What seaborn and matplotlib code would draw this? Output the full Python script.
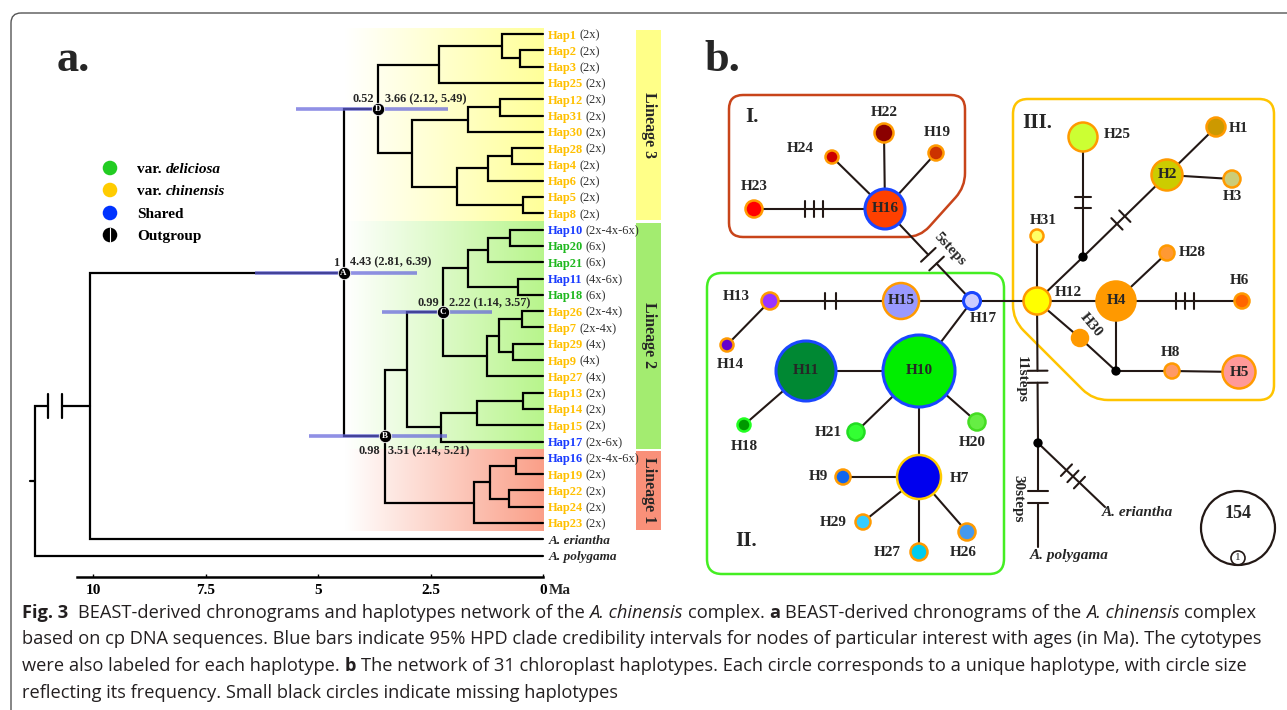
import numpy as np
import matplotlib
matplotlib.use("Agg")
import matplotlib.pyplot as plt
import seaborn as sns
from matplotlib.patches import Circle, Rectangle, FancyBboxPatch, PathPatch
from matplotlib.path import Path
from matplotlib.transforms import offset_copy
from matplotlib import font_manager

sns.set_theme(style="white")
plt.rcParams['font.family'] = ['Liberation Serif', 'DejaVu Serif']

# ---------------- panel a: chronogram data ----------------
tips = ["Hap1", "Hap2", "Hap3", "Hap25", "Hap12", "Hap31", "Hap30", "Hap28", "Hap4", "Hap6",
        "Hap5", "Hap8", "Hap10", "Hap20", "Hap21", "Hap11", "Hap18", "Hap26", "Hap7", "Hap29",
        "Hap9", "Hap27", "Hap13", "Hap14", "Hap15", "Hap17", "Hap16", "Hap19", "Hap22", "Hap24",
        "Hap23", "A. eriantha", "A. polygama"]
cytotypes = ["(2x)"] * 12 + ["(2x-4x-6x)", "(6x)", "(6x)", "(4x-6x)", "(6x)", "(2x-4x)", "(2x-4x)",
             "(4x)", "(4x)", "(4x)", "(2x)", "(2x)", "(2x)", "(2x-6x)", "(2x-4x-6x)", "(2x)",
             "(2x)", "(2x)", "(2x)", "", ""]
tip_kind = ["chinensis"] * 12 + ["shared", "deliciosa", "deliciosa", "shared", "deliciosa"] + \
           ["chinensis"] * 8 + ["shared", "shared"] + ["chinensis"] * 4 + ["out", "out"]

# internal nodes: name, child 1, child 2, age (Ma)
nodes = [
    ("n2_3", "Hap2", "Hap3", 0.51),
    ("n1_3", "Hap1", "n2_3", 0.92),
    ("n1_25", "n1_3", "Hap25", 2.31),
    ("n12_31", "Hap12", "Hap31", 0.96),
    ("n12_30", "n12_31", "Hap30", 1.67),
    ("n28_4", "Hap28", "Hap4", 0.70),
    ("n28_6", "n28_4", "Hap6", 1.22),
    ("n5_8", "Hap5", "Hap8", 0.45),
    ("n28_8", "n28_6", "n5_8", 1.92),
    ("n12_8", "n12_30", "n28_8", 2.92),
    ("D", "n1_25", "n12_8", 3.66),
    ("n10_20", "Hap10", "Hap20", 0.73),
    ("n10_21", "n10_20", "Hap21", 1.23),
    ("n11_18", "Hap11", "Hap18", 0.55),
    ("n10_18", "n10_21", "n11_18", 1.67),
    ("n26_7", "Hap26", "Hap7", 0.47),
    ("n29_9", "Hap29", "Hap9", 0.66),
    ("n26_9", "n26_7", "n29_9", 0.97),
    ("n26_27", "n26_9", "Hap27", 1.25),
    ("C", "n10_18", "n26_27", 2.22),
    ("n13_14", "Hap13", "Hap14", 0.44),
    ("n13_15", "n13_14", "Hap15", 1.47),
    ("n13_17", "n13_15", "Hap17", 2.27),
    ("L2", "C", "n13_17", 3.03),
    ("n16_19", "Hap16", "Hap19", 0.61),
    ("n22_24", "Hap22", "Hap24", 0.75),
    ("n16_24", "n16_19", "n22_24", 1.18),
    ("L1", "n16_24", "Hap23", 1.53),
    ("B", "L2", "L1", 3.51),
    ("A", "D", "B", 4.43),
    ("ingroup", "A", "A. eriantha", 10.07),
    ("root", "ingroup", "A. polygama", 11.29),
]
hpd = {"A": (2.81, 6.39), "D": (2.12, 5.49), "C": (1.14, 3.57), "B": (2.14, 5.21)}
posterior = {"A": "1", "D": "0.52", "C": "0.99", "B": "0.98"}
lineages = [("Lineage 3", 0, 11), ("Lineage 2", 12, 25), ("Lineage 1", 26, 30)]
scale_ticks = [10, 7.5, 5, 2.5, 0]
scale_labels = ["10", "7.5", "5", "2.5", "0"]
legend_names = ["var. deliciosa", "var. chinensis", "Shared", "Outgroup"]

# ---------------- panel b: network data ----------------
group_I = ["H16", "H22", "H19", "H24", "H23"]
group_II = ["H13", "H14", "H15", "H17", "H11", "H10", "H18", "H21", "H20", "H7", "H9", "H29", "H27", "H26"]
group_III = ["H25", "H1", "H2", "H3", "H31", "H12", "H4", "H28", "H6", "H30", "H8", "H5"]
missing = ["mv1", "mv2", "mv3"]
# edge: a, b, mutation marks, steps (break)
net_edges = [
    ("H23", "H16", 3, 0), ("H24", "H16", 0, 0), ("H22", "H16", 0, 0), ("H19", "H16", 0, 0),
    ("H16", "H17", 0, 5),
    ("H13", "H15", 2, 0), ("H15", "H17", 0, 0), ("H13", "H14", 0, 0), ("H17", "H10", 0, 0),
    ("H11", "H10", 0, 0), ("H11", "H18", 0, 0), ("H10", "H21", 0, 0), ("H10", "H20", 0, 0),
    ("H10", "H7", 0, 0), ("H7", "H9", 0, 0), ("H7", "H29", 0, 0), ("H7", "H27", 0, 0),
    ("H7", "H26", 0, 0), ("H17", "H12", 0, 0),
    ("H12", "H31", 0, 0), ("H12", "mv1", 0, 0), ("mv1", "H25", 2, 0), ("mv1", "H2", 2, 0),
    ("H2", "H1", 0, 0), ("H2", "H3", 0, 0), ("H12", "H4", 0, 0), ("H4", "H28", 0, 0),
    ("H4", "H6", 3, 0), ("H12", "H30", 0, 0), ("H30", "mv2", 0, 0), ("H4", "mv2", 0, 0),
    ("mv2", "H8", 0, 0), ("H8", "H5", 0, 0),
    ("H12", "mv3", 0, 11), ("mv3", "A. polygama", 0, 30), ("mv3", "A. eriantha", 3, 0),
]
scale_count = 154

# ---------------- layout / styles ----------------
net_pos = {
    "H16": (885, 209), "H22": (884, 133), "H19": (936, 153), "H24": (832, 157), "H23": (754, 209),
    "H13": (770, 301), "H14": (727, 345), "H15": (901, 301), "H17": (972, 301), "H11": (806, 371),
    "H10": (919, 371), "H18": (744, 425), "H21": (856, 432), "H20": (977, 422), "H7": (919, 477),
    "H9": (843, 477), "H29": (863, 522), "H27": (919, 552), "H26": (967, 532),
    "H25": (1083, 137), "H1": (1216, 127), "H2": (1167, 175), "H3": (1232, 179), "H31": (1037, 236),
    "H12": (1037, 301), "H4": (1116, 301), "H28": (1167, 253), "H6": (1242, 301), "H30": (1080, 338),
    "H8": (1172, 371), "H5": (1239, 372),
    "mv1": (1083, 257), "mv2": (1116, 371), "mv3": (1038, 443),
    "A. eriantha": (1105, 507), "A. polygama": (1038, 547),
}
net_r = {"H16": 20, "H22": 9.5, "H19": 7.5, "H24": 6.5, "H23": 8.5, "H13": 8.5, "H14": 6.5,
         "H15": 18, "H17": 8.5, "H11": 30, "H10": 36, "H18": 6.5, "H21": 8.5, "H20": 8.5,
         "H7": 22, "H9": 7.5, "H29": 7.5, "H27": 8.5, "H26": 8.5, "H25": 14.5, "H1": 9.5,
         "H2": 15.5, "H3": 8.5, "H31": 6.5, "H12": 13.5, "H4": 19.5, "H28": 7.5, "H6": 7.5,
         "H30": 8, "H8": 7.5, "H5": 16.5, "mv1": 4, "mv2": 4, "mv3": 4}
ORANGE, BLUE = "#ff9a00", "#1a46ff"
net_fill = {"H16": "#ff4000", "H22": "#8b0000", "H19": "#cc3300", "H24": "#cc0000", "H23": "#ff0000",
            "H13": "#9933ff", "H14": "#6600cc", "H15": "#9999ff", "H17": "#ccccff", "H11": "#008833",
            "H10": "#00ee00", "H18": "#009900", "H21": "#33ff33", "H20": "#66ee44", "H7": "#0000ee",
            "H9": "#1166ee", "H29": "#33ccff", "H27": "#00ccee", "H26": "#4499ee",
            "H25": "#ccff33", "H1": "#cc9900", "H2": "#cccc00", "H3": "#cccc77", "H31": "#ffff66",
            "H12": "#ffff00", "H4": "#ff9900", "H28": "#ff9933", "H6": "#ff6600", "H30": "#ff9900",
            "H8": "#ff9966", "H5": "#ff9999"}
net_edgecol = {"H16": BLUE, "H17": BLUE, "H11": BLUE, "H10": BLUE, "H7": "#ffcc00",
               "H18": "#22ff22", "H21": "#22dd22", "H20": "#44dd22"}
inside = ["H16", "H15", "H11", "H10", "H2", "H4", "H5"]
label_off = {"H22": (0, -21), "H19": (1, -21), "H24": (-32, -9), "H23": (0, -22),
             "H13": (-34, -5), "H14": (3, 19), "H17": (11, 17), "H18": (0, 21), "H21": (-28, 1),
             "H20": (-5, 21), "H7": (40, 1), "H9": (-25, -1), "H29": (-30, 1), "H27": (-32, 1),
             "H26": (-4, 21), "H25": (34, -3), "H1": (23, 1), "H3": (0, 18), "H31": (6, -16),
             "H12": (31, -8), "H28": (25, 0), "H6": (-3, -20), "H8": (-2, -18)}
step_label = {5: (950, 249, -47), 11: (1021, 380, -90), 30: (1018, 499, -90)}
EDGE = "#231815"

fig = plt.figure(figsize=(12.87, 7.10), dpi=100)
ax = fig.add_axes([0, 0, 1, 1])
ax.set_xlim(0, 1287)
ax.set_ylim(710, 0)
ax.set_axis_off()
ax.set_autoscale_on(False)

axt = fig.add_axes([0, 0, 700 / 1287, 1])
axt.patch.set_alpha(0)
XL, XR = 543 / 45, (543 - 700) / 45
YT, YB = -34 / 16.3, (710 - 34) / 16.3
axt.set_xlim(XL, XR)
axt.set_ylim(YB, YT)
axt.set_autoscale_on(False)
renderer = fig.canvas.get_renderer()


def seg_text(axis, x, y, segments, size, color="black", family=None, va="baseline", base=None):
    """place text pieces one after another, return total width in pixels"""
    base = base or axis.transData
    dx = 0.0
    for txt, weight, style, col in segments:
        col = col or color
        kw = dict(fontsize=size, fontweight=weight, fontstyle=style, color=col, va=va, ha="left")
        if family:
            kw["family"] = family
        sp = axis.text(0, 0, "a a", **kw)
        nsp = axis.text(0, 0, "aa", **kw)
        space_w = sp.get_window_extent(renderer).width - nsp.get_window_extent(renderer).width
        sp.remove()
        nsp.remove()
        lead = len(txt) - len(txt.lstrip(" "))
        trail = len(txt) - len(txt.rstrip(" "))
        dx += lead * space_w
        core = txt.strip(" ")
        if core:
            t = axis.text(x, y, core, transform=offset_copy(base, fig=fig, x=dx, y=0, units="dots"), **kw)
            dx += t.get_window_extent(renderer).width
        dx += trail * space_w
    return dx


# ---------- frame ----------
ax.add_patch(FancyBboxPatch((11, 13), 1300, 710, boxstyle="round,pad=0,rounding_size=10",
                            lw=1.0, ec="#555555", fc="none"))
ax.text(73, 60, "a.", fontsize=32, fontweight="bold", ha="center", va="center")
ax.text(722, 60, "b.", fontsize=32, fontweight="bold", ha="center", va="center")

# ---------- lineage backgrounds and bars ----------
lin_bg = {"Lineage 3": "#ffff99", "Lineage 2": "#b8f58c", "Lineage 1": "#fa9f88"}
lin_bar = {"Lineage 3": "#ffff88", "Lineage 2": "#a3ec70", "Lineage 1": "#f99079"}
for name, lo, hi in lineages:
    y0 = lo - 0.5 if lo > 0 else lo - 0.3
    y1 = hi + 0.5
    c = np.array(matplotlib.colors.to_rgb(lin_bg[name]))
    t = np.linspace(0, 1, 200)[None, :, None]
    grad = (1 - t) * np.ones(3) + t * c
    axt.imshow(grad, extent=(4.4, 0, y1, y0), aspect="auto", zorder=0, interpolation="bilinear")
    axt.add_patch(Rectangle((-2.07, y0 + 0.07), -0.55, (y1 - y0) - 0.14, fc=lin_bar[name], ec="none", zorder=1))
    axt.text(-2.345, (y0 + y1) / 2, name, rotation=-90, fontsize=11.5, fontweight="bold",
             ha="center", va="center", zorder=2)

# ---------- tree ----------
node_age = {n: 0.0 for n in tips}
node_y = {n: i for i, n in enumerate(tips)}
for name, a, b, age in nodes:
    node_age[name] = age
    node_y[name] = (node_y[a] + node_y[b]) / 2

for name, a, b, age in nodes:
    if name == "root":
        continue
    axt.plot([node_age[a], age, age, node_age[b]], [node_y[a], node_y[a], node_y[b], node_y[b]],
             color="black", lw=1.6, solid_joinstyle="miter", zorder=2)
# root with broken branch
ry, iy = node_y["root"], node_y["ingroup"]
ra = node_age["root"]
axt.plot([node_age["A. polygama"], ra, ra, 11.0], [node_y["A. polygama"], node_y["A. polygama"], iy, iy],
         color="black", lw=1.6, solid_joinstyle="miter", zorder=2)
axt.plot([10.69, node_age["ingroup"]], [iy, iy], color="black", lw=1.6, zorder=2)
for bx in (11.0, 10.69):
    axt.plot([bx, bx], [iy - 0.75, iy + 0.75], color="black", lw=1.6, zorder=2)
axt.plot([ra + 0.12, ra], [ry, ry], color="black", lw=1.6, zorder=2)

# HPD bars
for n, (lo, hi) in hpd.items():
    axt.plot([lo, hi], [node_y[n], node_y[n]], color=(0.38, 0.38, 0.86), alpha=0.7, lw=2.6,
             solid_capstyle="butt", zorder=3)
marked = list(hpd.keys())
sns.scatterplot(x=[node_age[n] for n in marked], y=[node_y[n] for n in marked], s=80, color="black",
                edgecolor="white", linewidth=0.6, legend=False, ax=axt, zorder=5)
for n in marked:
    axt.text(node_age[n], node_y[n], n, color="white", fontsize=6.5, fontweight="bold",
             ha="center", va="center", zorder=6)
node_txt_off = {"A": (-5, 10, 6, 10), "D": (-4, 10, 7, 10), "C": (-4, 9, 6, 9), "B": (-5, -15, 3, -15)}
for n, (pdx, pdy, adx, ady) in node_txt_off.items():
    lo, hi = hpd[n]
    axt.text(node_age[n], node_y[n], posterior[n], fontsize=8.8, fontweight="bold", ha="right", va="center",
             transform=offset_copy(axt.transData, fig=fig, x=pdx, y=pdy, units="dots"), zorder=6)
    axt.text(node_age[n], node_y[n], f"{node_age[n]:.2f} ({lo:.2f}, {hi:.2f})", fontsize=8.8,
             fontweight="bold", ha="left", va="center",
             transform=offset_copy(axt.transData, fig=fig, x=adx, y=ady, units="dots"), zorder=6)

# tip labels
kind_color = {"chinensis": "#ffc000", "deliciosa": "#1fb81f", "shared": "#1a3cff", "out": "black"}
for i, (name, cyt, kind) in enumerate(zip(tips, cytotypes, tip_kind)):
    if kind == "out":
        axt.text(-0.12, i, name, fontsize=9.5, fontweight="bold", fontstyle="italic",
                 va="center_baseline", ha="left")
        continue
    seg_text(axt, -0.1, i, [(name + " ", "bold", "normal", kind_color[kind]),
                            (cyt, "normal", "normal", "#333333")], 9, va="center_baseline")

# scale axis
sns.despine(ax=axt, left=True, top=True, right=True)
axt.spines["bottom"].set_position(("data", 33.3))
axt.spines["bottom"].set_bounds(10.35, 0)
axt.spines["bottom"].set_linewidth(1.8)
axt.spines["bottom"].set_color("black")
axt.set_yticks([])
axt.set_xticks(scale_ticks)
axt.set_xticklabels(scale_labels, fontweight="bold", fontsize=11)
axt.tick_params(axis="x", bottom=True, direction="in", length=2, width=1, pad=5, labelsize=11,
                colors="black")
axt.text(0, 33.3, "Ma", fontsize=11, fontweight="bold", ha="left", va="top",
         transform=offset_copy(axt.transData, fig=fig, x=6, y=-7, units="dots"))
axt.grid(False)

# legend
leg_y = [168, 190, 213, 235]
leg_col = ["#22cc22", "#ffcc00", "#0033ff", "black"]
sns.scatterplot(x=[110] * 4, y=leg_y, hue=legend_names, palette=dict(zip(legend_names, leg_col)),
                s=110, edgecolor="none", legend=False, ax=ax, zorder=4)
ax.plot([110, 110], [leg_y[3] - 7, leg_y[3] + 7], color="white", lw=0.8, zorder=5)
leg_segments = [[("var. ", "bold", "normal", None), ("deliciosa", "bold", "italic", None)],
                [("var. ", "bold", "normal", None), ("chinensis", "bold", "italic", None)],
                [("Shared", "bold", "normal", None)],
                [("Outgroup", "bold", "normal", None)]]
for y, segs in zip(leg_y, leg_segments):
    seg_text(ax, 137, y, segs, 11, va="center_baseline")

# ---------- network ----------
def rounded_poly(pts, r):
    pts = np.asarray(pts, float)
    n = len(pts)
    verts, codes = [], []
    for i in range(n):
        p0, p1, p2 = pts[i - 1], pts[i], pts[(i + 1) % n]
        a = p1 + r * (p0 - p1) / np.linalg.norm(p0 - p1)
        b = p1 + r * (p2 - p1) / np.linalg.norm(p2 - p1)
        verts += [a, p1, b]
        codes += [Path.LINETO, Path.CURVE3, Path.CURVE3]
    codes[0] = Path.MOVETO
    verts.append(verts[0])
    codes.append(Path.CLOSEPOLY)
    return Path(verts, codes)


ax.add_patch(PathPatch(rounded_poly([(729, 95), (965, 95), (965, 187), (920, 237), (729, 237)], 14),
                       fc="none", ec="#c8441a", lw=1.8, zorder=1))
ax.add_patch(PathPatch(rounded_poly([(707, 273), (1004, 273), (1004, 574), (707, 574)], 15),
                       fc="none", ec="#44ee22", lw=1.8, zorder=1))
ax.add_patch(PathPatch(rounded_poly([(1013, 99), (1274, 99), (1274, 400), (1093, 400), (1013, 320)], 15),
                       fc="none", ec="#ffc400", lw=1.8, zorder=1))
ax.text(745, 117, "I.", fontsize=15, fontweight="bold", ha="left", va="center")
ax.text(735, 541, "II.", fontsize=15, fontweight="bold", ha="left", va="center")
ax.text(1022, 123, "III.", fontsize=15, fontweight="bold", ha="left", va="center")

for a, b, marks, steps in net_edges:
    p, q = np.array(net_pos[a], float), np.array(net_pos[b], float)
    d = q - p
    L = np.hypot(*d)
    u = d / L
    nv = np.array([-u[1], u[0]])
    r_a, r_b = net_r.get(a, 0), net_r.get(b, 0)
    c = p + u * (r_a + (L - r_a - r_b) / 2)
    if steps:
        e1, e2 = c - u * 6, c + u * 6
        ax.plot([p[0], e1[0]], [p[1], e1[1]], color=EDGE, lw=1.5, zorder=2)
        ax.plot([e2[0], q[0]], [e2[1], q[1]], color=EDGE, lw=1.5, zorder=2)
        for e in (e1, e2):
            ax.plot([e[0] - nv[0] * 10, e[0] + nv[0] * 10], [e[1] - nv[1] * 10, e[1] + nv[1] * 10],
                    color=EDGE, lw=1.5, zorder=2)
        sx, sy, rot = step_label[steps]
        ax.text(sx, sy, f"{steps}steps", rotation=rot, fontsize=11, fontweight="bold",
                ha="center", va="center", rotation_mode="anchor")
    else:
        ax.plot([p[0], q[0]], [p[1], q[1]], color=EDGE, lw=1.5, zorder=2)
        spacing = 9 if marks >= 3 else 11
        for k in range(marks):
            m = c + u * (k - (marks - 1) / 2) * spacing
            ax.plot([m[0] - nv[0] * 8, m[0] + nv[0] * 8], [m[1] - nv[1] * 8, m[1] + nv[1] * 8],
                    color=EDGE, lw=1.5, zorder=2)

for h in group_I + group_II + group_III:
    ax.add_patch(Circle(net_pos[h], net_r[h], fc=net_fill[h], ec=net_edgecol.get(h, ORANGE),
                        lw=2.2 if h in net_edgecol and net_edgecol[h] == BLUE else 1.8, zorder=3))
    x, y = net_pos[h]
    if h in inside:
        ax.text(x, y, h, fontsize=11, fontweight="bold", ha="center", va="center", zorder=4)
    elif h == "H30":
        ax.text(x + 11, y - 13, h, fontsize=11, fontweight="bold", ha="center", va="center",
                rotation=-50, zorder=4)
    else:
        dx, dy = label_off[h]
        ax.text(x + dx, y + dy, h, fontsize=11, fontweight="bold", ha="center", va="center", zorder=4)

sns.scatterplot(x=[net_pos[m][0] for m in missing], y=[net_pos[m][1] for m in missing], s=45,
                color="black", edgecolor="none", legend=False, ax=ax, zorder=4)
ax.text(1102, 512, "A. eriantha", fontsize=11, fontweight="bold", fontstyle="italic", ha="left", va="center")
ax.text(1030, 556, "A. polygama", fontsize=11, fontweight="bold", fontstyle="italic", ha="left", va="center")

ax.add_patch(Circle((1238, 528), 37, fc="none", ec=EDGE, lw=1.6, zorder=3))
ax.add_patch(Circle((1238, 558), 7, fc="none", ec=EDGE, lw=1.2, zorder=3))
ax.text(1238, 514, str(scale_count), fontsize=13, fontweight="bold", ha="center", va="center")
ax.text(1238, 558, "1", fontsize=8, ha="center", va="center")

# ---------- caption ----------
names = {f.name for f in font_manager.fontManager.ttflist}
cap_font = "Open Sans" if "Open Sans" in names else "DejaVu Sans"
cap_lines = [
    [("Fig. 3", "bold", "normal", None), ("  BEAST-derived chronograms and haplotypes network of the ", "normal", "normal", None),
     ("A. chinensis", "normal", "italic", None), (" complex. ", "normal", "normal", None), ("a", "bold", "normal", None),
     (" BEAST-derived chronograms of the ", "normal", "normal", None), ("A. chinensis", "normal", "italic", None),
     (" complex", "normal", "normal", None)],
    [("based on cp DNA sequences. Blue bars indicate 95% HPD clade credibility intervals for nodes of particular interest with ages (in Ma). The cytotypes",
      "normal", "normal", None)],
    [("were also labeled for each haplotype. ", "normal", "normal", None), ("b", "bold", "normal", None),
     (" The network of 31 chloroplast haplotypes. Each circle corresponds to a unique haplotype, with circle size", "normal", "normal", None)],
    [("reflecting its frequency. Small black circles indicate missing haplotypes", "normal", "normal", None)],
]
probe = fig.add_axes([0, 0, 1, 1])
probe.set_xlim(0, 1287)
probe.set_ylim(710, 0)
probe.set_axis_off()
w = seg_text(probe, 0, 0, cap_lines[1], 10, family=cap_font)
probe.remove()
cap_size = 10 * 1246 / w
for segs, by in zip(cap_lines, [618, 644.5, 671, 697.5]):
    seg_text(ax, 22, by, segs, cap_size, color="#231f20", family=cap_font)

axt.set_xlim(XL, XR)
axt.set_ylim(YB, YT)
axt.set_xlabel("")
axt.set_ylabel("")
ax.set_xlim(0, 1287)
ax.set_ylim(710, 0)
fig.savefig("out.png", dpi=100)
